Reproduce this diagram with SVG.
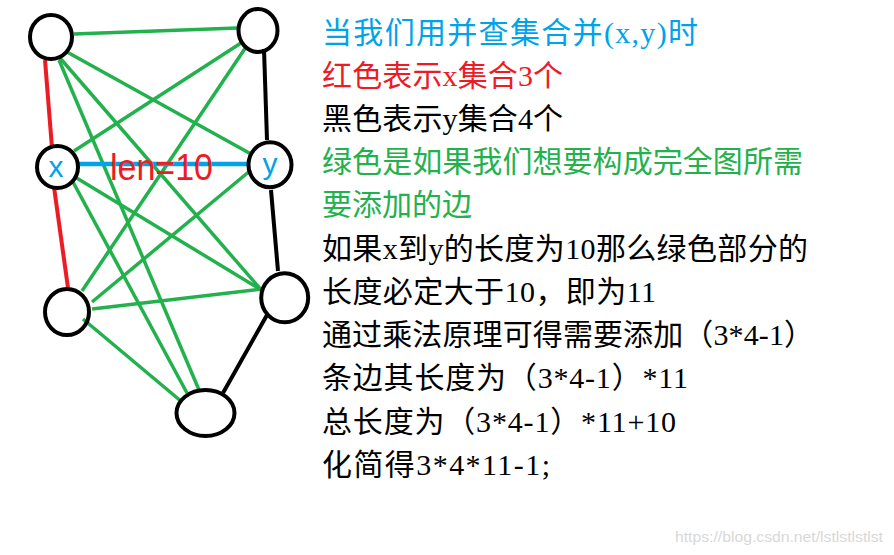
<svg xmlns="http://www.w3.org/2000/svg" width="894" height="555" viewBox="0 0 894 555">
<style>
.node{fill:none;stroke:#000;stroke-width:4}
.g{stroke:#22b14c;stroke-width:3.5;stroke-linecap:butt}
.r{stroke:#ed1c24;stroke-width:4}
.k{stroke:#000;stroke-width:4}
.b{stroke:#00a2e8;stroke-width:4.5}
.lbl{font-family:"Liberation Sans",Arial,sans-serif;fill:#00a2e8;text-anchor:middle}
.t{font-family:"Liberation Serif","Noto Sans CJK SC",serif;font-size:30px}
</style>
<rect width="894" height="555" fill="#fff"/>
<g id="connectors">
<line class="g" x1="74" y1="34" x2="237" y2="28"/>
<line class="g" x1="67" y1="52" x2="251" y2="154"/>
<line class="g" x1="60" y1="58" x2="263" y2="292"/>
<line class="g" x1="59" y1="60" x2="199" y2="390"/>
<line class="g" x1="74" y1="151" x2="241" y2="43"/>
<line class="g" x1="75" y1="177" x2="263" y2="291"/>
<line class="g" x1="73" y1="182" x2="187" y2="393"/>
<line class="g" x1="246" y1="47" x2="82" y2="291"/>
<line class="g" x1="251" y1="170" x2="92" y2="302"/>
<line class="g" x1="92" y1="309" x2="262" y2="289"/>
<line class="g" x1="83" y1="319" x2="182" y2="402"/>
<line class="r" x1="45" y1="60" x2="52" y2="148"/>
<line class="r" x1="54" y1="187" x2="68" y2="288"/>
<line class="k" x1="264" y1="49" x2="267" y2="140"/>
<line class="k" x1="271" y1="190" x2="278" y2="271"/>
<line class="k" x1="267" y1="315" x2="223" y2="393"/>
<line class="b" x1="78" y1="164" x2="247" y2="164"/>
<text x="110" y="180" font-family="Liberation Sans,Arial,sans-serif" font-size="36" fill="#ed1c24" textLength="103" lengthAdjust="spacingAndGlyphs">len=10</text>
</g>
<g id="node-tl"><ellipse class="node" cx="51" cy="37" rx="21" ry="22"/></g>
<g id="node-tr"><ellipse class="node" cx="258" cy="30.5" rx="19.5" ry="21.5"/></g>
<g id="node-x"><ellipse class="node" cx="57.5" cy="167" rx="20.5" ry="21"/><text class="lbl" x="56" y="177" font-size="30">x</text></g>
<g id="node-y"><ellipse class="node" cx="270" cy="164.7" rx="21.5" ry="22.5"/><text class="lbl" x="270" y="174" font-size="30">y</text></g>
<g id="node-bl"><ellipse class="node" cx="67" cy="312" rx="22" ry="23"/></g>
<g id="node-rb"><ellipse class="node" cx="284.7" cy="297.7" rx="23.5" ry="24.5"/></g>
<g id="node-bottom"><ellipse class="node" cx="205.5" cy="413" rx="29" ry="23"/></g>
<g id="notes" class="t">
<text x="322" y="43" fill="#00a2e8" textLength="376" lengthAdjust="spacing">当我们用并查集合并(x,y)时</text>
<text x="322" y="86" fill="#ed1c24" textLength="241" lengthAdjust="spacing">红色表示x集合3个</text>
<text x="322" y="129" fill="#000" textLength="241" lengthAdjust="spacing">黑色表示y集合4个</text>
<text x="322" y="172" fill="#22b14c" textLength="481" lengthAdjust="spacing">绿色是如果我们想要构成完全图所需</text>
<text x="322" y="215" fill="#22b14c">要添加的边</text>
<text x="322" y="259" fill="#000" textLength="486" lengthAdjust="spacing">如果x到y的长度为10那么绿色部分的</text>
<text x="322" y="302" fill="#000" textLength="334" lengthAdjust="spacing">长度必定大于10，即为11</text>
<text x="322" y="345" fill="#000" textLength="492" lengthAdjust="spacing">通过乘法原理可得需要添加（3*4-1）</text>
<text x="322" y="388" fill="#000" textLength="366" lengthAdjust="spacing">条边其长度为（3*4-1）*11</text>
<text x="322" y="432" fill="#000" textLength="354" lengthAdjust="spacing">总长度为（3*4-1）*11+10</text>
<text x="322" y="475" fill="#000" textLength="228" lengthAdjust="spacing">化简得3*4*11-1;</text>
</g>
<text x="675" y="542" font-family="Liberation Sans,Arial,sans-serif" font-size="14" fill="#d8d8d8" textLength="208" lengthAdjust="spacingAndGlyphs">https://blog.csdn.net/lstlstlstlst</text>
</svg>
